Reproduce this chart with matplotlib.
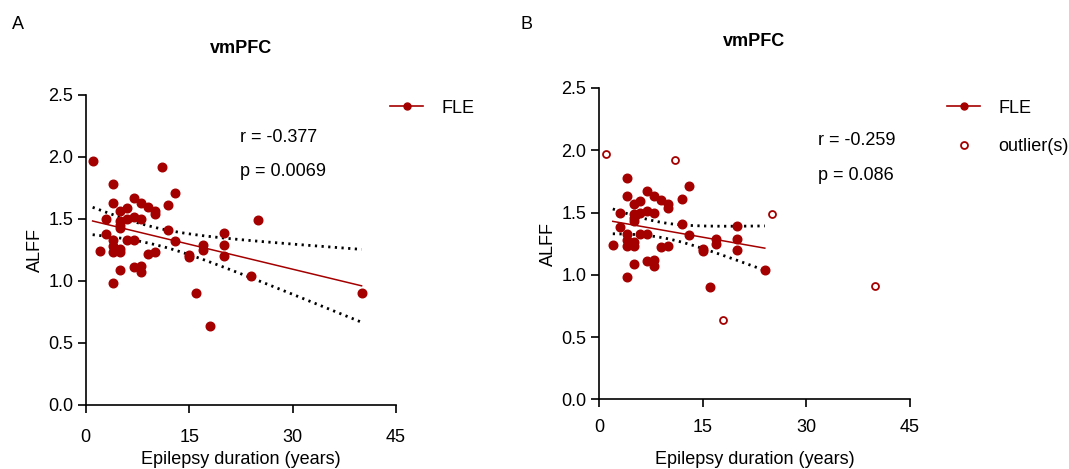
import numpy as np
import matplotlib
matplotlib.use("Agg")
import matplotlib.pyplot as plt
from matplotlib.lines import Line2D

plt.rcParams['font.family'] = ['Liberation Sans', 'DejaVu Sans']

# Data: epilepsy duration (years) and ALFF (vmPFC)
duration = [1, 11, 4, 13, 4, 7, 8, 9, 10, 10, 12, 6, 5, 3, 5, 5, 5, 6, 7, 8,
            3, 12, 2, 4, 4, 4, 5, 5, 6, 7, 9, 10, 13, 15, 15, 17, 17, 20, 20, 20,
            5, 7, 8, 8, 4, 16, 25, 24, 18, 40]
alff = [1.97, 1.92, 1.78, 1.71, 1.63, 1.67, 1.63, 1.60, 1.565, 1.54, 1.61, 1.59,
        1.565, 1.50, 1.487, 1.455, 1.43, 1.50, 1.516, 1.50, 1.38, 1.41, 1.24, 1.33,
        1.28, 1.23, 1.26, 1.23, 1.33, 1.33, 1.22, 1.235, 1.32, 1.21, 1.19, 1.29,
        1.25, 1.39, 1.29, 1.20, 1.09, 1.11, 1.12, 1.07, 0.98, 0.90, 1.49, 1.04,
        0.64, 0.906]
outlier_flag = [1, 1, 0, 0, 0, 0, 0, 0, 0, 0, 0, 0, 0, 0, 0, 0, 0, 0, 0, 0,
                0, 0, 0, 0, 0, 0, 0, 0, 0, 0, 0, 0, 0, 0, 0, 0, 0, 0, 0, 0,
                0, 0, 0, 0, 0, 0, 1, 0, 1, 1]

stats_a = ["r = -0.377", "p = 0.0069"]
stats_b = ["r = -0.259", "p = 0.086"]
xticks = [0, 15, 30, 45]
yticks = [0.0, 0.5, 1.0, 1.5, 2.0, 2.5]

RED = '#a50000'
FS = 13

x_all = np.array(duration, float)
y_all = np.array(alff, float)
out = np.array(outlier_flag, bool)


def fit_ci(x, y, xs):
    n = len(x)
    b, a = np.polyfit(x, y, 1)
    yhat = a + b * x
    s = np.sqrt(np.sum((y - yhat) ** 2) / (n - 2))
    t = 2.0106 if n == 50 else 2.015
    se = s * np.sqrt(1 / n + (xs - x.mean()) ** 2 / np.sum((x - x.mean()) ** 2))
    yf = a + b * xs
    return yf, yf - t * se, yf + t * se


def style(ax, title, xpad, xlabelpad):
    ax.set_xlim(0, 45)
    ax.set_ylim(0, 2.5)
    ax.set_xticks(xticks)
    ax.set_yticks(yticks)
    ax.set_yticklabels([f"{v:.1f}" for v in yticks])
    for s in ['top', 'right']:
        ax.spines[s].set_visible(False)
    for s in ['left', 'bottom']:
        ax.spines[s].set_linewidth(1.2)
    ax.tick_params(direction='out', length=6, width=1.2, labelsize=FS)
    ax.tick_params(axis='x', pad=xpad)
    ax.tick_params(axis='y', pad=3)
    ax.set_xlabel("Epilepsy duration (years)", fontsize=FS, labelpad=xlabelpad)
    ax.set_ylabel("ALFF", fontsize=FS, labelpad=3)
    ax.set_title(title, fontsize=FS, fontweight='bold', pad=30)


fig = plt.figure(figsize=(10.69, 4.69), dpi=100)
axA = fig.add_axes([0.0802, 0.1365, 0.2903, 0.661])
axB = fig.add_axes([0.5603, 0.1486, 0.2909, 0.6638])

# Panel A
xs = np.linspace(x_all.min(), x_all.max(), 200)
yf, lo, hi = fit_ci(x_all, y_all, xs)
axA.plot(xs, yf, color=RED, lw=1.1, zorder=2)
axA.plot(xs, lo, color='black', lw=2, ls=(0, (0.8, 1.6)), zorder=2)
axA.plot(xs, hi, color='black', lw=2, ls=(0, (0.8, 1.6)), zorder=2)
axA.plot(x_all, y_all, 'o', color=RED, ms=6.2, mec=RED, clip_on=False, zorder=3)
style(axA, "vmPFC", xpad=11, xlabelpad=4)
axA.text(22.4, 2.16, stats_a[0], fontsize=FS, va='center')
axA.text(22.4, 1.88, stats_a[1], fontsize=FS, va='center')

# Panel B
xi, yi = x_all[~out], y_all[~out]
xs = np.linspace(xi.min(), xi.max(), 200)
yf, lo, hi = fit_ci(xi, yi, xs)
axB.plot(xs, yf, color=RED, lw=1.1, zorder=2)
axB.plot(xs, lo, color='black', lw=2, ls=(0, (0.8, 1.6)), zorder=2)
axB.plot(xs, hi, color='black', lw=2, ls=(0, (0.8, 1.6)), zorder=2)
axB.plot(xi, yi, 'o', color=RED, ms=6.2, mec=RED, clip_on=False, zorder=3)
axB.plot(x_all[out], y_all[out], 'o', mfc='white', mec=RED, mew=1.3, ms=5,
         clip_on=False, zorder=3)
style(axB, "vmPFC", xpad=8, xlabelpad=11)
axB.text(31.7, 2.08, stats_b[0], fontsize=FS, va='center')
axB.text(31.7, 1.80, stats_b[1], fontsize=FS, va='center')

fle_handle = Line2D([], [], color=RED, lw=1.2, marker='o', ms=5)
out_handle = Line2D([], [], color=RED, lw=0, marker='o', ms=5, mfc='white', mew=1.3)

fig.legend([fle_handle], ["FLE"], loc='upper left', bbox_to_anchor=(0.3495, 0.822),
           frameon=False, fontsize=FS, handlelength=1.85, handletextpad=1.0)
fig.legend([fle_handle, out_handle], ["FLE", "outlier(s)"], loc='upper left',
           bbox_to_anchor=(0.8705, 0.822), frameon=False, fontsize=FS,
           handlelength=1.85, handletextpad=1.0, labelspacing=1.2)

fig.text(0.011, 0.948, "A", fontsize=FS, va='center')
fig.text(0.487, 0.948, "B", fontsize=FS, va='center')

fig.savefig("out.png", dpi=100)
